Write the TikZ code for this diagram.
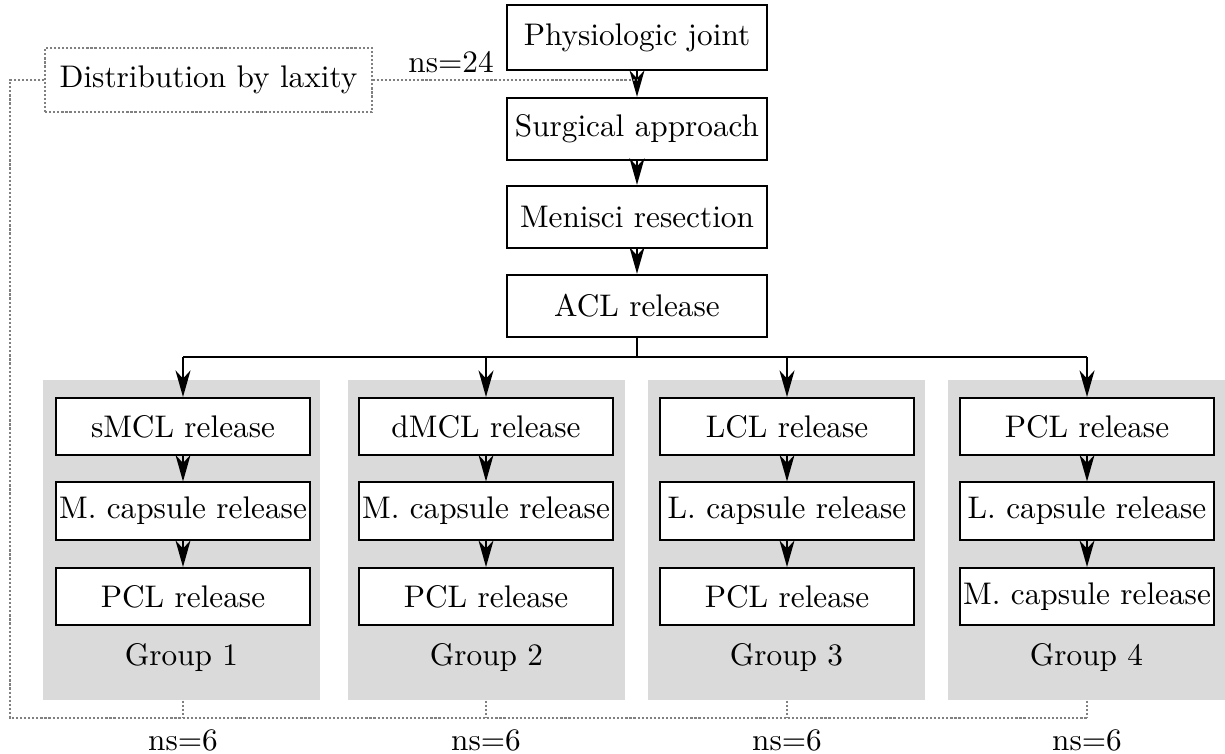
\documentclass[tikz,border=0pt]{standalone}
\usetikzlibrary{arrows.meta}
\definecolor{panel}{RGB}{218,218,218}
\begin{document}
\begin{tikzpicture}[x=0.32pt,y=-0.32pt,
  box/.style={draw,line width=0.6pt,fill=white,minimum width=83.2pt,minimum height=20pt,inner sep=0pt},
  gbox/.style={draw,line width=0.6pt,fill=white,minimum width=81.3pt,minimum height=18.3pt,inner sep=0pt},
  panelbox/.style={fill=panel,draw=none,minimum width=88.6pt,minimum height=102.4pt,inner sep=0pt},
  flow/.style={line width=0.6pt,-{Stealth[length=8.5pt,width=4.8pt,inset=2.6pt]}},
  link/.style={line width=0.4pt,gray,dash pattern=on 0.7pt off 0.6pt},
  lbl/.style={inner sep=0pt}]
\useasboundingbox (0,0) rectangle (1225,753);

% grey group panels
\foreach \n/\x in {1/181.5,2/486.5,3/786.5,4/1086.5}{
  \node[panelbox] (p\n) at (\x,540) {};
  \node[lbl] (g\n) at (\x,657) {Group \n};
}

% main sequence
\node[box,minimum height=20.8pt] (phys) at (637,37.5) {Physiologic joint};
\node[box] (surg) at (637,129) {Surgical approach};
\node[box] (men) at (637,217) {Menisci resection};
\node[box] (acl) at (637,306) {ACL release};

\draw[flow] (phys) -- (surg);
\draw[flow] (surg) -- (men);
\draw[flow] (men) -- (acl);

% group 1
\node[gbox] (a1) at (183,426.5) {sMCL release};
\node[gbox] (a2) at (183,511) {M. capsule release};
\node[gbox] (a3) at (183,596.5) {PCL release};
% group 2
\node[gbox] (b1) at (486,426.5) {dMCL release};
\node[gbox] (b2) at (486,511) {M. capsule release};
\node[gbox] (b3) at (486,596.5) {PCL release};
% group 3
\node[gbox] (c1) at (787,426.5) {LCL release};
\node[gbox] (c2) at (787,511) {L. capsule release};
\node[gbox] (c3) at (787,596.5) {PCL release};
% group 4
\node[gbox] (d1) at (1087,426.5) {PCL release};
\node[gbox] (d2) at (1087,511) {L. capsule release};
\node[gbox] (d3) at (1087,596.5) {M. capsule release};

\foreach \g in {a,b,c,d}{
  \draw[flow] (\g1) -- (\g2);
  \draw[flow] (\g2) -- (\g3);
}

% branching from ACL release
\coordinate (bus) at (637,357);
\draw[line width=0.6pt] (acl.south) -- (bus);
\draw[line width=0.6pt] (a1.north |- bus) -- (d1.north |- bus);
\foreach \g in {a,b,c,d}{
  \draw[flow] (\g1.north |- bus) -- (\g1.north);
}

% distribution by laxity
\node[draw=gray,line width=0.4pt,dash pattern=on 0.7pt off 0.6pt,minimum width=104.6pt,minimum height=20.5pt,inner sep=0pt] (dist) at (208.5,80) {Distribution by laxity};
\coordinate (join) at (637,80);
\draw[link] (dist.east) -- (join);
\node[lbl] (ns24) at (451,62) {ns=24};

\coordinate (cl) at (10,80);
\coordinate (cb) at (10,718);
\draw[link] (dist.west) -- (cl) -- (cb) -- (cb -| d1);
\foreach \n/\g in {1/a,2/b,3/c,4/d}{
  \draw[link] (\g1 |- p\n.south) -- (\g1 |- cb);
  \node[lbl] (ns\n) at (\g1 |- 0,740) {ns=6};
}
\end{tikzpicture}
\end{document}
